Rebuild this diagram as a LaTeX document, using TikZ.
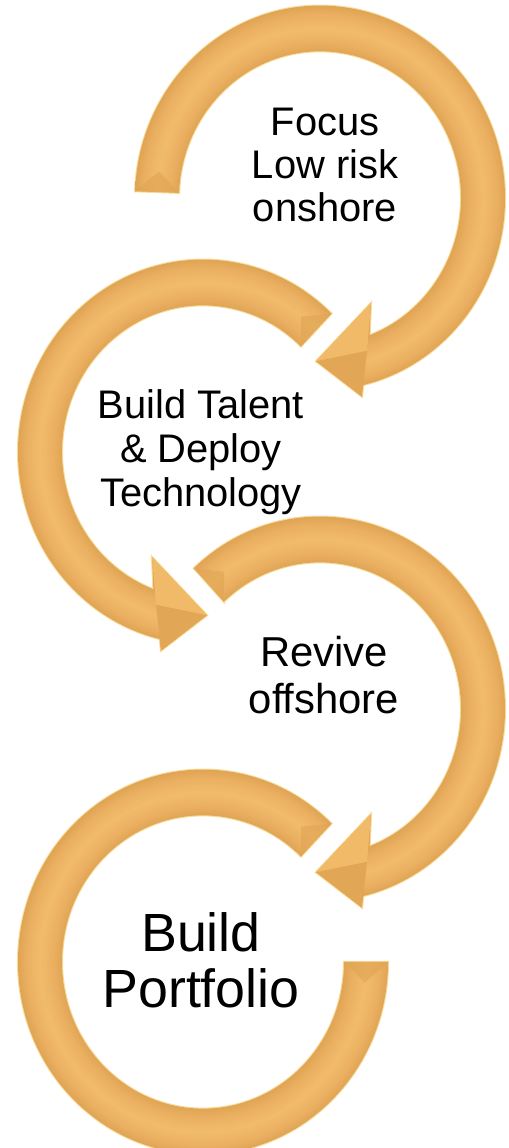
\documentclass[tikz,border=0pt]{standalone}
\usepackage{fontspec}
\setmainfont{Liberation Sans}
\usepackage{tikz}
\definecolor{bandedge}{HTML}{DFA454}
\definecolor{bandmid}{HTML}{EBB061}
\definecolor{bandlight}{HTML}{F1BB6B}
\definecolor{bandrim}{HTML}{F8DC9C}
\definecolor{headlight}{HTML}{F1BA68}
\definecolor{headdark}{HTML}{E2A657}

% darker at both edges of the band, light along its middle
\pgfdeclareradialshading{bandshade}{\pgfpoint{0bp}{0bp}}{%
  color(0bp)=(bandedge); color(17.6bp)=(bandedge); color(18.8bp)=(bandmid);
  color(20.4bp)=(bandlight); color(22bp)=(bandmid); color(23.1bp)=(bandedge);
  color(25bp)=(bandedge); color(50bp)=(bandedge)}

\tikzset{
  rim/.style={draw=bandrim, line width=1.2pt},
  bevel/.style={fill=bandedge, opacity=0.6},
  lbl/.style={align=center, text=black, inner sep=0pt},
}

% curved arrow with head at the bottom: centre, tail angle, 1 or -1 (mirrored)
\newcommand{\headarrow}[3]{%
  \begin{scope}[shift={(#1)}, xscale=#3, yscale=1.04]
    \def\bandpath{(#2:141) -- (#2:185)
      arc[start angle=#2, end angle=-76.5, radius=185]
      -- (42,-191) -- (-4,-157) -- (51,-101) -- (-69.4:141)
      arc[start angle=-69.4, end angle=#2, radius=141] -- cycle}
    \draw[rim] \bandpath;
    \begin{scope}
      \clip \bandpath;
      \shade[shading=bandshade] (0,0) circle[radius=200];
      % facets of the head
      \fill[headlight] (-4,-157) -- (51,-101) -- (47,-147) -- cycle;
      \fill[headdark] (-4,-157) -- (47,-147) -- (42,-191) -- cycle;
      % bevel at the tail
      \fill[bevel] (#2:141) -- (#2:185) -- ({#2-7}:163) -- cycle;
    \end{scope}
  \end{scope}}

% open ring without head: centre, start angle, end angle
\newcommand{\goldring}[3]{%
  \begin{scope}[shift={(#1)}, yscale=1.04]
    \def\bandpath{(#2:141) -- (#2:185)
      arc[start angle=#2, end angle=#3, radius=185] -- (#3:141)
      arc[start angle=#3, end angle=#2, radius=141] -- cycle}
    \draw[rim] \bandpath;
    \begin{scope}
      \clip \bandpath;
      \shade[shading=bandshade] (0,0) circle[radius=200];
      \fill[bevel] (#2:141) -- (#2:185) -- ({#2+7}:163) -- cycle;
      \fill[bevel] (#3:141) -- (#3:185) -- ({#3-7}:163) -- cycle;
    \end{scope}
  \end{scope}}

\begin{document}
\begin{tikzpicture}[x=0.02cm, y=0.02cm]
\useasboundingbox (0,0) rectangle (508,1148);

\coordinate (c1) at (320,950);
\coordinate (c2) at (203,696);
\coordinate (c3) at (320,439);
\coordinate (c4) at (203,186);

\headarrow{c1}{178}{1}
\headarrow{c2}{134}{-1}
\headarrow{c3}{133}{1}
\goldring{c4}{46}{360}

\node[lbl, font=\fontsize{22.7}{24.4}\selectfont] (focus) at ([shift={(5,33)}]c1)
  {Focus\\Low risk\\onshore};
\node[lbl, font=\fontsize{22.7}{25}\selectfont] (talent) at ([shift={(-2,0)}]c2)
  {Build Talent\\\& Deploy\\Technology};
\node[lbl, font=\fontsize{23.8}{27.2}\selectfont] (revive) at ([shift={(4,34)}]c3)
  {Revive\\offshore};
\node[lbl, font=\fontsize{30.6}{31.8}\selectfont] (portfolio) at ([shift={(-2,2)}]c4)
  {Build\\Portfolio};
\end{tikzpicture}
\end{document}
